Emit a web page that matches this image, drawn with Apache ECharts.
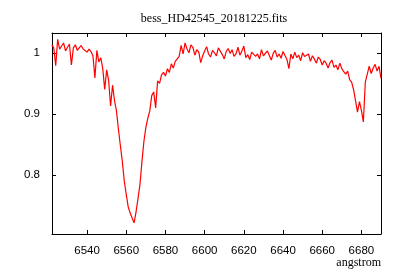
<!DOCTYPE html>
<html>
<head>
<meta charset="utf-8">
<script src="https://cdn.jsdelivr.net/npm/echarts@6/dist/echarts.min.js"></script>
<style>html,body{margin:0;padding:0;background:#fff}#c{width:400px;height:280px}</style>
</head>
<body>
<div id="c"></div>
<script>
const chartTitle = 'bess_HD42545_20181225.fits';
const xName = 'angstrom';
const wavelength = [
6522,6523,6524,6525,6526,6527,6528,6529,6530,6531,
6532,6533,6534,6535,6536,6537,6538,6539,6540,6541,
6542,6543,6544,6545,6546,6547,6548,6549,6550,6551,
6552,6553,6554,6555,6556,6557,6558,6559,6560,6561,
6562,6563,6564,6565,6566,6567,6568,6569,6570,6571,
6572,6573,6574,6575,6576,6577,6578,6579,6580,6581,
6582,6583,6584,6585,6586,6587,6588,6589,6590,6591,
6592,6593,6594,6595,6596,6597,6598,6599,6600,6601,
6602,6603,6604,6605,6606,6607,6608,6609,6610,6611,
6612,6613,6614,6615,6616,6617,6618,6619,6620,6621,
6622,6623,6624,6625,6626,6627,6628,6629,6630,6631,
6632,6633,6634,6635,6636,6637,6638,6639,6640,6641,
6642,6643,6644,6645,6646,6647,6648,6649,6650,6651,
6652,6653,6654,6655,6656,6657,6658,6659,6660,6661,
6662,6663,6664,6665,6666,6667,6668,6669,6670,6671,
6672,6673,6674,6675,6676,6677,6678,6679,6680,6681,
6682,6683,6684,6685,6686,6687,6688,6689,6690
];
const flux = [
1.013,1.008,0.979,1.022,1.006,1.011,1.016,1.003,1.009,1.014,
0.980,1.008,1.013,1.004,1.002,1.012,1.006,1.009,1.001,1.006,
1.002,0.995,0.959,1.004,0.985,0.992,0.974,0.940,0.972,0.955,
0.913,0.947,0.922,0.905,0.875,0.848,0.822,0.790,0.768,0.748,
0.738,0.730,0.722,0.740,0.762,0.785,0.822,0.855,0.878,0.893,
0.905,0.930,0.936,0.910,0.954,0.950,0.964,0.968,0.962,0.974,
0.968,0.982,0.975,0.986,0.990,0.994,1.012,0.998,1.016,1.006,
1.000,1.013,1.009,0.996,1.005,1.001,0.984,0.995,1.003,1.010,
0.998,0.993,1.004,1.000,0.995,1.008,1.006,0.997,0.990,1.002,
1.007,0.999,1.005,0.994,0.998,1.009,0.996,1.003,1.011,0.992,
0.997,0.989,1.001,1.003,0.994,0.998,0.990,1.005,0.995,0.992,
1.003,1.000,0.988,0.999,1.004,0.993,0.998,0.991,1.002,0.999,
0.989,0.974,0.998,0.990,1.001,0.992,0.996,0.987,1.000,0.994,
0.991,0.998,0.986,0.995,0.990,0.983,0.993,0.989,0.980,0.987,
0.983,0.975,0.984,0.988,0.976,0.980,0.972,0.983,0.974,0.969,
0.965,0.970,0.956,0.952,0.940,0.938,0.903,0.920,0.906,0.887,
0.952,0.965,0.978,0.966,0.975,0.981,0.970,0.978,0.958
];
const xTicks = [6540,6560,6580,6600,6620,6640,6660,6680];
const yTicks = [0.8,0.9,1];

const chart = echarts.init(document.getElementById('c'), null, {renderer:'canvas'});
const labelFont = {fontFamily:'Liberation Sans', fontSize:11.5, color:'#000'};
const lineStyle = {color:'#000', width:1};
function xAx(pos, showLabel){
  return {type:'value', position:pos, min:6522.1, max:6690,
    axisLine:{show:true, onZero:false, lineStyle},
    axisTick:{show:true, inside:true, length:4, lineStyle, customValues:xTicks},
    axisLabel:Object.assign({show:showLabel, margin:11, customValues:xTicks,
      formatter:v=>String(Math.round(v))}, labelFont),
    splitLine:{show:false}};
}
function yAx(pos, showLabel){
  return {type:'value', position:pos, min:0.7038, max:1.0323,
    axisLine:{show:true, onZero:false, lineStyle},
    axisTick:{show:true, inside:true, length:4, lineStyle, customValues:yTicks},
    axisLabel:Object.assign({show:showLabel, margin:12, customValues:yTicks,
      formatter:v=>String(Math.round(v*10)/10)}, labelFont),
    splitLine:{show:false}};
}
chart.setOption({
  animation:false,
  backgroundColor:'#fff',
  grid:{left:52, right:19, top:33, bottom:46, containLabel:false},
  xAxis:[xAx('bottom', true), xAx('top', false)],
  yAxis:[yAx('left', true), yAx('right', false)],
  graphic:[
    {type:'text', x:214, y:19, style:{text:chartTitle, fontFamily:'Liberation Serif', fontSize:12, fill:'#000', align:'center', verticalAlign:'middle'}},
    {type:'text', x:381, y:263, style:{text:xName, fontFamily:'Liberation Serif', fontSize:12, fill:'#000', align:'right', verticalAlign:'middle'}}
  ],
  series:[{type:'line', xAxisIndex:0, yAxisIndex:0, showSymbol:false, symbol:'none',
    lineStyle:{color:'#ff0000', width:1.2}, data:wavelength.map((w,i)=>[w, flux[i]])}]
});
</script>
</body>
</html>
